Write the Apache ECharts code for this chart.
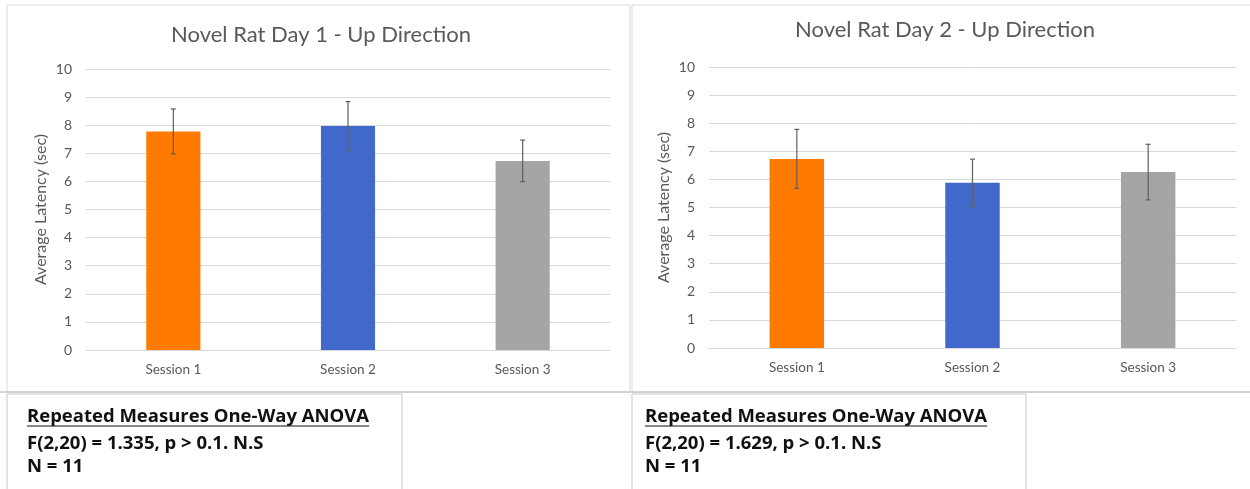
<!DOCTYPE html>
<html>
<head>
<meta charset="utf-8">
<script src="https://cdn.jsdelivr.net/npm/echarts@6/dist/echarts.min.js"></script>
<style>
html,body{margin:0;padding:0;background:#fff;}
#main{width:1250px;height:489px;}
</style>
</head>
<body>
<div id="main"></div>
<script>
// ---- data ----
const categories = ['Session 1', 'Session 2', 'Session 3'];
const day1Means = [7.78, 7.97, 6.73];
const day1Errors = [0.80, 0.87, 0.74];
const day2Means = [6.73, 5.88, 6.26];
const day2Errors = [1.05, 0.84, 0.99];
const barColors = ['#FF7A00', '#4169CB', '#A5A5A5'];
const chartTitles = ['Novel Rat Day 1 - Up Direction', 'Novel Rat Day 2 - Up Direction'];
const yAxisName = 'Average Latency (sec)';
const statsHeading = 'Repeated Measures One-Way ANOVA';
const stats1 = ['F(2,20) = 1.335, p > 0.1. N.S', 'N = 11'];
const stats2 = ['F(2,20) = 1.629, p > 0.1. N.S', 'N = 11'];

const FONT = 'Lato';
const STAT_FONT = 'Open Sans';
const STAT_SIZE = 18.5;
const TXT = '#595959';

function barData(means) {
  return means.map((v, i) => ({ value: v, itemStyle: { color: barColors[i] } }));
}
function errData(means, errs) {
  return means.map((v, i) => [i, v, errs[i]]);
}
function renderErr(params, api) {
  const x = api.value(0), m = api.value(1), e = api.value(2);
  const top = api.coord([x, m + e]);
  const bot = api.coord([x, m - e]);
  const cap = 2.5;
  const style = { stroke: '#5F5F5F', lineWidth: 1.2 };
  return {
    type: 'group',
    children: [
      { type: 'line', shape: { x1: top[0], y1: top[1], x2: bot[0], y2: bot[1] }, style },
      { type: 'line', shape: { x1: top[0] - cap, y1: top[1], x2: top[0] + cap, y2: top[1] }, style },
      { type: 'line', shape: { x1: bot[0] - cap, y1: bot[1], x2: bot[0] + cap, y2: bot[1] }, style }
    ]
  };
}
function xAxis(idx) {
  return {
    type: 'category', gridIndex: idx, data: categories,
    axisLine: { show: true, lineStyle: { color: '#D9D9D9' } },
    axisTick: { show: false },
    axisLabel: { color: TXT, fontFamily: FONT, fontSize: 13.5, margin: 13 }
  };
}
function yAxis(idx) {
  return {
    type: 'value', gridIndex: idx, min: 0, max: 10, interval: 1,
    name: yAxisName, nameLocation: 'middle', nameGap: 37,
    nameTextStyle: { color: TXT, fontFamily: FONT, fontSize: 16 },
    axisLine: { show: false }, axisTick: { show: false },
    axisLabel: { color: TXT, fontFamily: FONT, fontSize: 14, margin: 14 },
    splitLine: { lineStyle: { color: '#D9D9D9', width: 1 } }
  };
}
const measureCtx = document.createElement('canvas').getContext('2d');
function textWidth(t) {
  measureCtx.font = 'bold ' + STAT_SIZE + 'px "' + STAT_FONT + '"';
  return measureCtx.measureText(t).width;
}
function statTexts(x0, lines) {
  const base = { fontFamily: STAT_FONT, fontWeight: 'bold', fontSize: STAT_SIZE, fill: '#111', verticalAlign: 'middle' };
  return [
    { type: 'text', x: x0, y: 417, style: Object.assign({ text: statsHeading }, base), silent: true },
    { type: 'text', x: x0, y: 444, style: Object.assign({ text: lines[0] }, base), silent: true },
    { type: 'text', x: x0, y: 467, style: Object.assign({ text: lines[1] }, base), silent: true },
    { type: 'line', shape: { x1: x0, y1: 426, x2: x0 + textWidth(statsHeading), y2: 426 }, style: { stroke: '#111', lineWidth: 1.2 }, silent: true }
  ];
}

const chart = echarts.init(document.getElementById('main'));
chart.setOption({
  backgroundColor: '#fff',
  animation: false,
  title: [
    { text: chartTitles[0], left: 316, top: 19, textAlign: 'center',
      textStyle: { color: TXT, fontFamily: FONT, fontSize: 22, fontWeight: 'normal' } },
    { text: chartTitles[1], left: 940, top: 14, textAlign: 'center',
      textStyle: { color: TXT, fontFamily: FONT, fontSize: 22, fontWeight: 'normal' } }
  ],
  grid: [
    { left: 86, right: 640, top: 69, bottom: 139 },
    { left: 709, right: 14, top: 67, bottom: 141 }
  ],
  xAxis: [xAxis(0), xAxis(1)],
  yAxis: [yAxis(0), yAxis(1)],
  series: [
    { type: 'bar', xAxisIndex: 0, yAxisIndex: 0, barWidth: '31%', data: barData(day1Means) },
    { type: 'custom', xAxisIndex: 0, yAxisIndex: 0, renderItem: renderErr, data: errData(day1Means, day1Errors), z: 5 },
    { type: 'bar', xAxisIndex: 1, yAxisIndex: 1, barWidth: '31%', data: barData(day2Means) },
    { type: 'custom', xAxisIndex: 1, yAxisIndex: 1, renderItem: renderErr, data: errData(day2Means, day2Errors), z: 5 }
  ],
  graphic: [
    // panel borders
    { type: 'rect', shape: { x: 7, y: 5, width: 623, height: 387 }, style: { fill: 'none', stroke: '#D9D9D9', lineWidth: 1 }, silent: true },
    { type: 'rect', shape: { x: 632, y: 5, width: 630, height: 387 }, style: { fill: 'none', stroke: '#D9D9D9', lineWidth: 1 }, silent: true },
    { type: 'line', shape: { x1: 0, y1: 392, x2: 1250, y2: 392 }, style: { stroke: '#C8C8C8', lineWidth: 1.5 }, silent: true },
    // stats boxes
    { type: 'rect', shape: { x: 7, y: 394, width: 395, height: 100 }, style: { fill: 'none', stroke: '#C8C8C8', lineWidth: 1 }, silent: true },
    { type: 'rect', shape: { x: 632, y: 394, width: 394, height: 100 }, style: { fill: 'none', stroke: '#C8C8C8', lineWidth: 1 }, silent: true },
    ...statTexts(27, stats1),
    ...statTexts(645, stats2)
  ]
});
</script>
</body>
</html>
